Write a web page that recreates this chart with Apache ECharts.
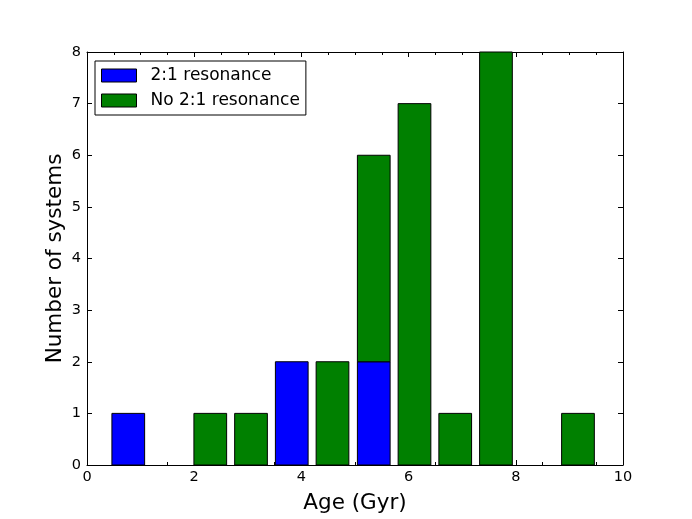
<!DOCTYPE html>
<html>
<head>
<meta charset="utf-8">
<script src="https://cdn.jsdelivr.net/npm/echarts@6/dist/echarts.min.js"></script>
<style>
  html, body { margin: 0; padding: 0; background: #fff; }
  #chart { width: 692px; height: 519px; }
</style>
</head>
<body>
<div id="chart"></div>
<script>
// histogram bins (centre of each bin, in Gyr)
var binCentres = [0.77, 1.53, 2.30, 3.06, 3.82, 4.58, 5.35, 6.11, 6.87, 7.63, 8.40, 9.16];
var binWidth = 0.763;
var resonant = [1, 0, 0, 0, 2, 0, 2, 0, 0, 0, 0, 0];
var nonResonant = [0, 0, 1, 1, 0, 2, 4, 7, 1, 8, 0, 1];
var seriesNames = ['2:1 resonance', 'No 2:1 resonance'];
var seriesColors = ['#0000ff', '#008000'];

// stacked: each item is [centre, bottom, top]
function stackedItems(counts, base) {
    var out = [];
    binCentres.forEach(function (c, i) {
        if (counts[i] > 0) {
            var b = base ? base[i] : 0;
            out.push([c, b, b + counts[i]]);
        }
    });
    return out;
}

var halfBar = binWidth * 0.8 / 2;

function renderBar(params, api) {
    var c = api.value(0);
    var p0 = api.coord([c - halfBar, api.value(2)]);
    var p1 = api.coord([c + halfBar, api.value(1)]);
    return {
        type: 'rect',
        shape: { x: p0[0], y: p0[1], width: p1[0] - p0[0], height: p1[1] - p0[1] },
        style: { fill: api.visual('color'), stroke: '#000', lineWidth: 1 }
    };
}

var font = 'DejaVu Sans';
var chart = echarts.init(document.getElementById('chart'));

var tickStyle = { inside: true, length: 5, lineStyle: { color: '#000', width: 1 } };
var minorStyle = { show: true, splitNumber: 4, length: 3, lineStyle: { color: '#000', width: 1 } };

chart.setOption({
    animation: false,
    textStyle: { fontFamily: font },
    grid: { left: 87, right: 69, top: 52, bottom: 52 },
    legend: {
        data: seriesNames,
        orient: 'vertical',
        left: 95,
        top: 61,
        itemWidth: 35,
        itemHeight: 13,
        itemGap: 8,
        padding: [6, 6, 6, 6],
        borderColor: '#000',
        borderWidth: 1,
        borderRadius: 0,
        backgroundColor: '#fff',
        icon: 'rect',
        itemStyle: { borderColor: '#000', borderWidth: 1 },
        textStyle: { fontFamily: font, fontSize: 17, color: '#000', padding: [0, 0, 0, 9] }
    },
    xAxis: [{
        type: 'value',
        min: 0, max: 10, interval: 2,
        name: 'Age (Gyr)',
        nameLocation: 'middle',
        nameGap: 27,
        nameMoveOverlap: false,
        nameTextStyle: { fontFamily: font, fontSize: 21.5, color: '#000' },
        axisLine: { onZero: false, lineStyle: { color: '#000', width: 1 } },
        axisTick: tickStyle,
        minorTick: minorStyle,
        axisLabel: { fontFamily: font, fontSize: 14.5, color: '#000', margin: 5 },
        splitLine: { show: false }
    }, {
        type: 'value',
        position: 'top',
        min: 0, max: 10, interval: 2,
        axisLine: { onZero: false, lineStyle: { color: '#000', width: 1 } },
        axisTick: tickStyle,
        minorTick: minorStyle,
        axisLabel: { show: false },
        splitLine: { show: false }
    }],
    yAxis: [{
        type: 'value',
        min: 0, max: 8, interval: 1,
        name: 'Number of systems',
        nameLocation: 'middle',
        nameGap: 21,
        nameMoveOverlap: false,
        nameTextStyle: { fontFamily: font, fontSize: 21.5, color: '#000' },
        axisLine: { show: true, onZero: false, lineStyle: { color: '#000', width: 1 } },
        axisTick: tickStyle,
        axisLabel: { fontFamily: font, fontSize: 14.5, color: '#000', margin: 6 },
        splitLine: { show: false }
    }, {
        type: 'value',
        position: 'right',
        min: 0, max: 8, interval: 1,
        axisLine: { show: true, onZero: false, lineStyle: { color: '#000', width: 1 } },
        axisTick: tickStyle,
        axisLabel: { show: false },
        splitLine: { show: false }
    }],
    series: [
        {
            name: seriesNames[0],
            type: 'custom',
            renderItem: renderBar,
            itemStyle: { color: seriesColors[0], borderColor: '#000', borderWidth: 1 },
            encode: { x: 0, y: 2 },
            data: stackedItems(resonant, null)
        },
        {
            name: seriesNames[1],
            type: 'custom',
            renderItem: renderBar,
            itemStyle: { color: seriesColors[1], borderColor: '#000', borderWidth: 1 },
            encode: { x: 0, y: 2 },
            data: stackedItems(nonResonant, resonant)
        }
    ]
});
</script>
</body>
</html>
